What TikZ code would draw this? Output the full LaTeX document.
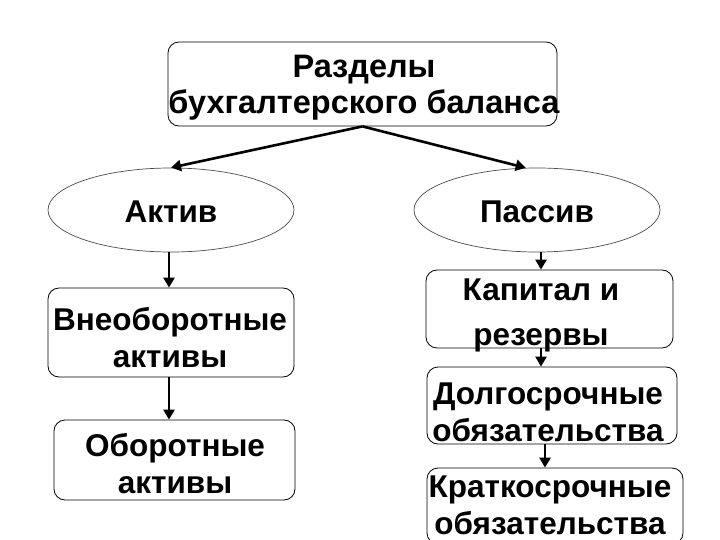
\documentclass[tikz,border=0pt]{standalone}
\usepackage{fontspec}
\setmainfont{Liberation Sans}
\usetikzlibrary{arrows.meta,shapes.geometric,calc}
\begin{document}
\begin{tikzpicture}[x=1pt,y=-1pt,
  rbox/.style={draw=black,line width=0.8pt,rounded corners=11pt,inner sep=0pt},
  oval/.style={ellipse,draw=black!70,line width=0.7pt,inner sep=0pt},
  lbl/.style={font=\fontsize{31.5}{37}\selectfont\bfseries,align=center,inner sep=0pt},
  arr/.style={line width=2.6pt,-{Triangle[length=10pt,width=11pt]}}]
\useasboundingbox[fill=white] (0,0) rectangle (720,540);
% boxes
\node[rbox,minimum width=389pt,minimum height=84pt] (top) at (362.5,84) {};
\node[lbl,font=\fontsize{32.5}{36}\selectfont\bfseries] (toptxt) at (364,88) {Разделы\\бухгалтерского баланса};
\node[oval,minimum width=246pt,minimum height=84pt] (akt) at (171,210) {};
\node[lbl] (akttxt) at (171,212) {Актив};
\node[oval,minimum width=246pt,minimum height=84pt] (pas) at (537,210) {};
\node[lbl] (pastxt) at (537,212) {Пассив};
\node[rbox,minimum width=246pt,minimum height=89pt] (vne) at (171,332.5) {};
\node[lbl] (vnetxt) at (170,338) {Внеоборотные\\активы};
\node[rbox,minimum width=241pt,minimum height=80pt] (obo) at (174.5,460) {};
\node[lbl] (obotxt) at (175,464) {Оборотные\\активы};
\node[rbox,minimum width=247pt,minimum height=78pt] (kap) at (549.5,309) {};
\node[lbl,font=\fontsize{31.5}{45}\selectfont\bfseries] (kaptxt) at (541,315) {Капитал и\\резервы};
\node[rbox,minimum width=250pt,minimum height=77pt] (dol) at (552,405.5) {};
\node[lbl] (doltxt) at (548,412) {Долгосрочные\\обязательства};
\node[rbox,minimum width=256pt,minimum height=76pt] (kra) at (555,506) {};
\node[lbl,font=\fontsize{31.5}{37}\selectfont\bfseries] (kratxt) at (550,505.5) {Краткосрочные\\обязательства};
% connectors
\draw[arr] (top.south) -- (akt.north);
\draw[arr] (top.south) -- (pas.105);
\draw[arr] ([xshift=-2pt]akt.south) -- ([xshift=-2pt]akt.south |- vne.north);
\draw[arr] ([xshift=-2pt]vne.south) -- ([xshift=-2pt]vne.south |- obo.north);
\draw[arr] ([xshift=4pt]pas.south) -- ([xshift=4pt]pas.south |- kap.north);
\draw[arr] ([xshift=-8.5pt]kap.south) -- ([xshift=-8.5pt]kap.south |- dol.north);
\draw[arr] ([xshift=-7pt]dol.south) -- ([xshift=-7pt]dol.south |- kra.north);
\end{tikzpicture}
\end{document}
